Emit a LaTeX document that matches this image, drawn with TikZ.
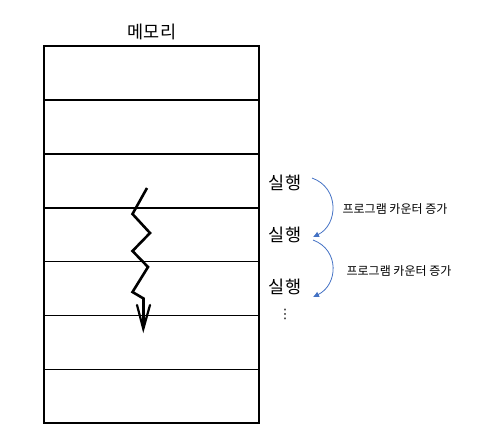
\documentclass[tikz,border=0pt]{standalone}
\usepackage{fontspec}
\newfontfamily\kr{Noto Sans CJK KR}
\usetikzlibrary{arrows.meta}
\definecolor{pcblue}{HTML}{4472C4}
\begin{document}
\begin{tikzpicture}[x=1pt,y=-1pt,
  cell/.style={draw=black,line width=1.7pt},
  lbl/.style={font=\kr\fontsize{17.5}{20}\selectfont,inner sep=0pt},
  pclbl/.style={font=\kr\fontsize{12}{14}\selectfont,inner sep=0pt},
  pcarrow/.style={draw=pcblue,line width=0.8pt,-{Latex[length=6pt,width=6pt]}},
  zig/.style={draw=black,line width=2.6pt,line join=miter}]
\useasboundingbox (0,0) rectangle (492,447);
% memory cells
\foreach \i [evaluate=\i as \ya using {46+53.9*\i}, evaluate=\i as \yb using {46+53.9*(\i+1)}] in {0,...,6}{
  \draw[cell] (44,\ya) rectangle (259,\yb);
}
\node[lbl] (title) at (152,32) {메모리};
% execution labels
\node[lbl] (e1) at (285,183) {실행};
\node[lbl] (e2) at (285,235) {실행};
\node[lbl] (e3) at (285,287) {실행};
\node[lbl] (dots) at (285,314) {\fontspec{DejaVu Sans}\fontsize{13}{14}\selectfont ⋮};
% program counter arrows
\coordinate (s1) at (312,178);
\coordinate (t1) at (313,237);
\coordinate (s2) at (313,240);
\coordinate (t2) at (313,297);
\draw[pcarrow] (s1) .. controls (340,188) and (338,225) .. (t1);
\draw[pcarrow] (s2) .. controls (340,250) and (338,285) .. (t2);
\node[pclbl] (p1) at (395,209) {프로그램 카운터 증가};
\node[pclbl] (p2) at (399,271) {프로그램 카운터 증가};
% zigzag
\draw[zig] (147,188) -- (132.5,214) -- (150,233) -- (132.5,251) -- (148,267) -- (132.5,292) -- (143.5,298.5) -- (143.5,326);
\coordinate (tip) at (143.3,329);
\draw[black,line width=2.2pt,line cap=round,line join=miter] (137,305) -- (tip) -- (150,305);
\end{tikzpicture}
\end{document}
